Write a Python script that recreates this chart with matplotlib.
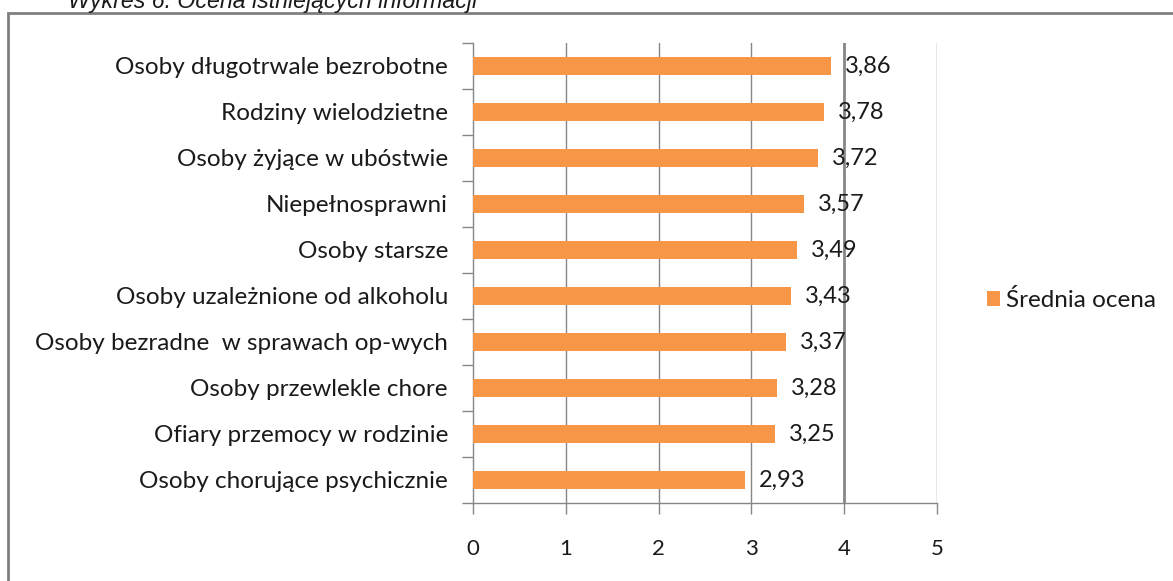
import matplotlib
matplotlib.use('Agg')
import matplotlib.pyplot as plt
from matplotlib.patches import Rectangle, Patch

categories = [
    'Osoby chorujące psychicznie',
    'Ofiary przemocy w rodzinie',
    'Osoby przewlekle chore',
    'Osoby bezradne  w sprawach op-wych',
    'Osoby uzależnione od alkoholu',
    'Osoby starsze',
    'Niepełnosprawni',
    'Osoby żyjące w ubóstwie',
    'Rodziny wielodzietne',
    'Osoby długotrwale bezrobotne',
]
values = [2.93, 3.25, 3.28, 3.37, 3.43, 3.49, 3.57, 3.72, 3.78, 3.86]
x_ticks = [0, 1, 2, 3, 4, 5]
series_name = 'Średnia ocena'
title = 'Wykres 6. Ocena istniejących informacji'

bar_color = '#F79646'
grid_color = '#868686'
text_color = '#1a1a1a'
plt.rcParams['font.family'] = ['Lato', 'DejaVu Sans']

fig = plt.figure(figsize=(11.73, 5.81), dpi=100)
ax = fig.add_axes([473 / 1173, 1 - 503 / 581, 464 / 1173, 460 / 581])

ypos = list(range(len(categories)))
ax.barh(ypos, values, height=0.4, color=bar_color, zorder=3)

for y, v in zip(ypos, values):
    ax.annotate(f'{v:.2f}'.replace('.', ','), (v, y), xytext=(10, 0),
                textcoords='offset points', va='center', ha='left',
                fontsize=17, color=text_color, zorder=4)

ax.set_xlim(0, 5)
ax.set_ylim(-0.5, len(categories) - 0.5)
ax.set_xticks(x_ticks)
ax.set_xticklabels([str(t) for t in x_ticks])
ax.set_yticks(ypos)
ax.set_yticklabels(categories)
ax.set_yticks([i - 0.5 for i in range(len(categories) + 1)], minor=True)

for t in x_ticks[1:]:
    ax.axvline(t, color=grid_color, lw=2 if t == 4 else 1, zorder=1)

ax.tick_params(axis='y', which='major', length=0, pad=18, labelsize=17.5,
               labelcolor=text_color)
ax.tick_params(axis='y', which='minor', length=8, color=grid_color, width=1)
ax.tick_params(axis='x', length=8, color=grid_color, width=1, pad=18,
               labelsize=16, labelcolor=text_color)

for side in ['top', 'right']:
    ax.spines[side].set_visible(False)
for side in ['left', 'bottom']:
    ax.spines[side].set_color(grid_color)
    ax.spines[side].set_linewidth(1)

handle = Patch(facecolor=bar_color, edgecolor='none')
fig.legend([handle], [series_name], loc='center left',
           bbox_to_anchor=(965 / 1173, 1 - 300 / 581), frameon=False,
           fontsize=17.5, handlelength=0.55, handleheight=0.55,
           handletextpad=0.25, labelcolor=text_color)

# outer chart frame (cut off on right/bottom)
fig.patches.append(Rectangle((8 / 1173, -0.1), 1.2, 1 - 13 / 581 + 0.1,
                             transform=fig.transFigure, fill=False,
                             edgecolor='#7F7F7F', lw=2))

fig.text(68 / 1173, 1 - 8 / 581, title, ha='left', va='baseline',
         fontsize=16.7, style='italic', color=text_color,
         family=['Liberation Sans', 'DejaVu Sans'])

fig.savefig('out.png', dpi=100)
